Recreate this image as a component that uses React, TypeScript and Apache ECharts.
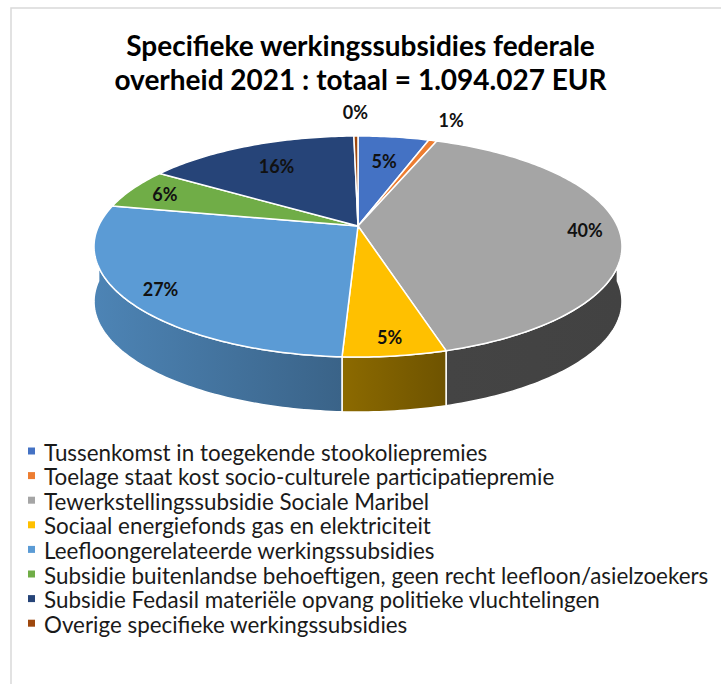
import React, { useEffect, useRef } from "react";
import * as echarts from "echarts";

const TITLE_LINES = [
  "Specifieke werkingssubsidies federale",
  "overheid 2021 : totaal = 1.094.027 EUR",
];

const CATEGORIES = [
  "Tussenkomst in toegekende stookoliepremies",
  "Toelage staat kost socio-culturele participatiepremie",
  "Tewerkstellingssubsidie Sociale Maribel",
  "Sociaal energiefonds gas en elektriciteit",
  "Leefloongerelateerde werkingssubsidies",
  "Subsidie buitenlandse behoeftigen, geen recht leefloon/asielzoekers",
  "Subsidie Fedasil materiële opvang politieke vluchtelingen",
  "Overige specifieke werkingssubsidies",
];

// share of the total, in percent
const SHARES = [5.2, 0.6, 39.7, 5.3, 27.3, 6.0, 15.6, 0.3];

const COLORS = [
  "#4472C4",
  "#ED7D31",
  "#A5A5A5",
  "#FFC000",
  "#5B9BD5",
  "#70AD47",
  "#264478",
  "#9E480E",
];

// styling of the pie (not data)
const LABEL_R = [0.7, 1.3, 0.87, 0.88, 0.87, 0.85, 0.72, 1.33];
const WALL_SHADE: [number, number][] = [
  [0.6, 0.6],
  [0.6, 0.6],
  [0.41, 0.4],
  [0.55, 0.43],
  [0.85, 0.64],
  [0.6, 0.6],
  [0.6, 0.6],
  [0.6, 0.6],
];

const CX = 358;
const CY = 226;
const BX = 259.4;
const AY = 106.7;
const Q = 0.1855;
const DEPTH = 55;

function shade(hex: string, f: number) {
  const n = parseInt(hex.slice(1), 16);
  const r = Math.round(((n >> 16) & 255) * f);
  const g = Math.round(((n >> 8) & 255) * f);
  const b = Math.round((n & 255) * f);
  return `rgb(${r},${g},${b})`;
}

function proj(r: number, t: number, dz = 0): [number, number] {
  const u = r * Math.sin(t);
  const v = r * Math.cos(t);
  const d = 1 + Q * v;
  return [CX + (BX * u) / d, CY - (AY * v) / d + dz];
}

function arc(a0: number, a1: number, dz = 0) {
  const n = Math.max(2, Math.ceil(((a1 - a0) * 180) / Math.PI));
  const pts: [number, number][] = [];
  for (let i = 0; i <= n; i++) pts.push(proj(1, a0 + ((a1 - a0) * i) / n, dz));
  return pts;
}

export default function App() {
  const ref = useRef<HTMLDivElement>(null);
  useEffect(() => {
    if (!ref.current) return;
    const chart = echarts.init(ref.current, null, { renderer: "svg" });
    const total = SHARES.reduce((a, b) => a + b, 0);
    const cum: number[] = [];
    let acc = 0;
    SHARES.forEach((v) => {
      cum.push(acc);
      acc += v;
    });

    const renderItem = (params: any, api: any) => {
      const i = params.dataIndex;
      const v = api.value(0);
      const a0 = (cum[i] / total) * Math.PI * 2;
      const a1 = a0 + (v / total) * Math.PI * 2;
      const children: any[] = [];
      const lo = Math.max(a0, Math.PI / 2);
      const hi = Math.min(a1, (Math.PI * 3) / 2);
      if (hi > lo) {
        const top = arc(lo, hi);
        const bot = arc(lo, hi, DEPTH).reverse();
        children.push({
          type: "polygon",
          z2: 1,
          shape: { points: top.concat(bot) },
          style: {
            fill: new echarts.graphic.LinearGradient(0, 0, 1, 0, [
              { offset: 0, color: shade(COLORS[i], WALL_SHADE[i][0]) },
              { offset: 1, color: shade(COLORS[i], WALL_SHADE[i][1]) },
            ]),
            stroke: "#ffffff",
            lineWidth: 1.5,
            lineJoin: "round",
          },
        });
      }
      children.push({
        type: "polygon",
        z2: 10,
        shape: { points: [proj(0, 0) as [number, number]].concat(arc(a0, a1)) },
        style: {
          fill: COLORS[i],
          stroke: "#ffffff",
          lineWidth: 1.5,
          lineJoin: "round",
        },
      });
      const [lx, ly] = proj(LABEL_R[i], (a0 + a1) / 2);
      children.push({
        type: "text",
        z2: 20,
        x: lx,
        y: ly,
        style: {
          text: Math.round((v / total) * 100) + "%",
          align: "center",
          verticalAlign: "middle",
          fontFamily: "Lato",
          fontWeight: "bold",
          fontSize: 18,
          fill: "#111111",
        },
      });
      return { type: "group", children };
    };

    const legendEls: any[] = [];
    CATEGORIES.forEach((c, i) => {
      const y = 451 + i * 24.6;
      legendEls.push({
        type: "rect",
        shape: { x: 28, y: y - 3.5, width: 7, height: 7 },
        style: { fill: COLORS[i] },
      });
      legendEls.push({
        type: "text",
        x: 44,
        y: y + 1,
        style: {
          text: c,
          fontFamily: "Lato",
          fontSize: 22.4,
          fill: "#1a1a1a",
          verticalAlign: "middle",
        },
      });
    });

    chart.setOption({
      animation: false,
      backgroundColor: "#ffffff",
      title: {
        text: TITLE_LINES.join("\n"),
        left: "center",
        top: 23,
        textStyle: {
          fontFamily: "Lato",
          fontWeight: "bold",
          fontSize: 28,
          lineHeight: 34,
          color: "#000000",
        },
      },
      graphic: [
        {
          type: "rect",
          shape: { x: 11, y: 8, width: 730, height: 700 },
          style: { fill: "none", stroke: "#d9d9d9", lineWidth: 1.5 },
          z: -1,
        },
        ...legendEls,
      ],
      series: [
        {
          type: "custom",
          coordinateSystem: "none",
          silent: true,
          renderItem,
          data: SHARES.map((v, i) => ({ name: CATEGORIES[i], value: [v] })),
        },
      ],
    });
    return () => chart.dispose();
  }, []);
  return (
    <div
      ref={ref}
      style={{ position: "fixed", left: 0, top: 0, width: 721, height: 684 }}
    />
  );
}
